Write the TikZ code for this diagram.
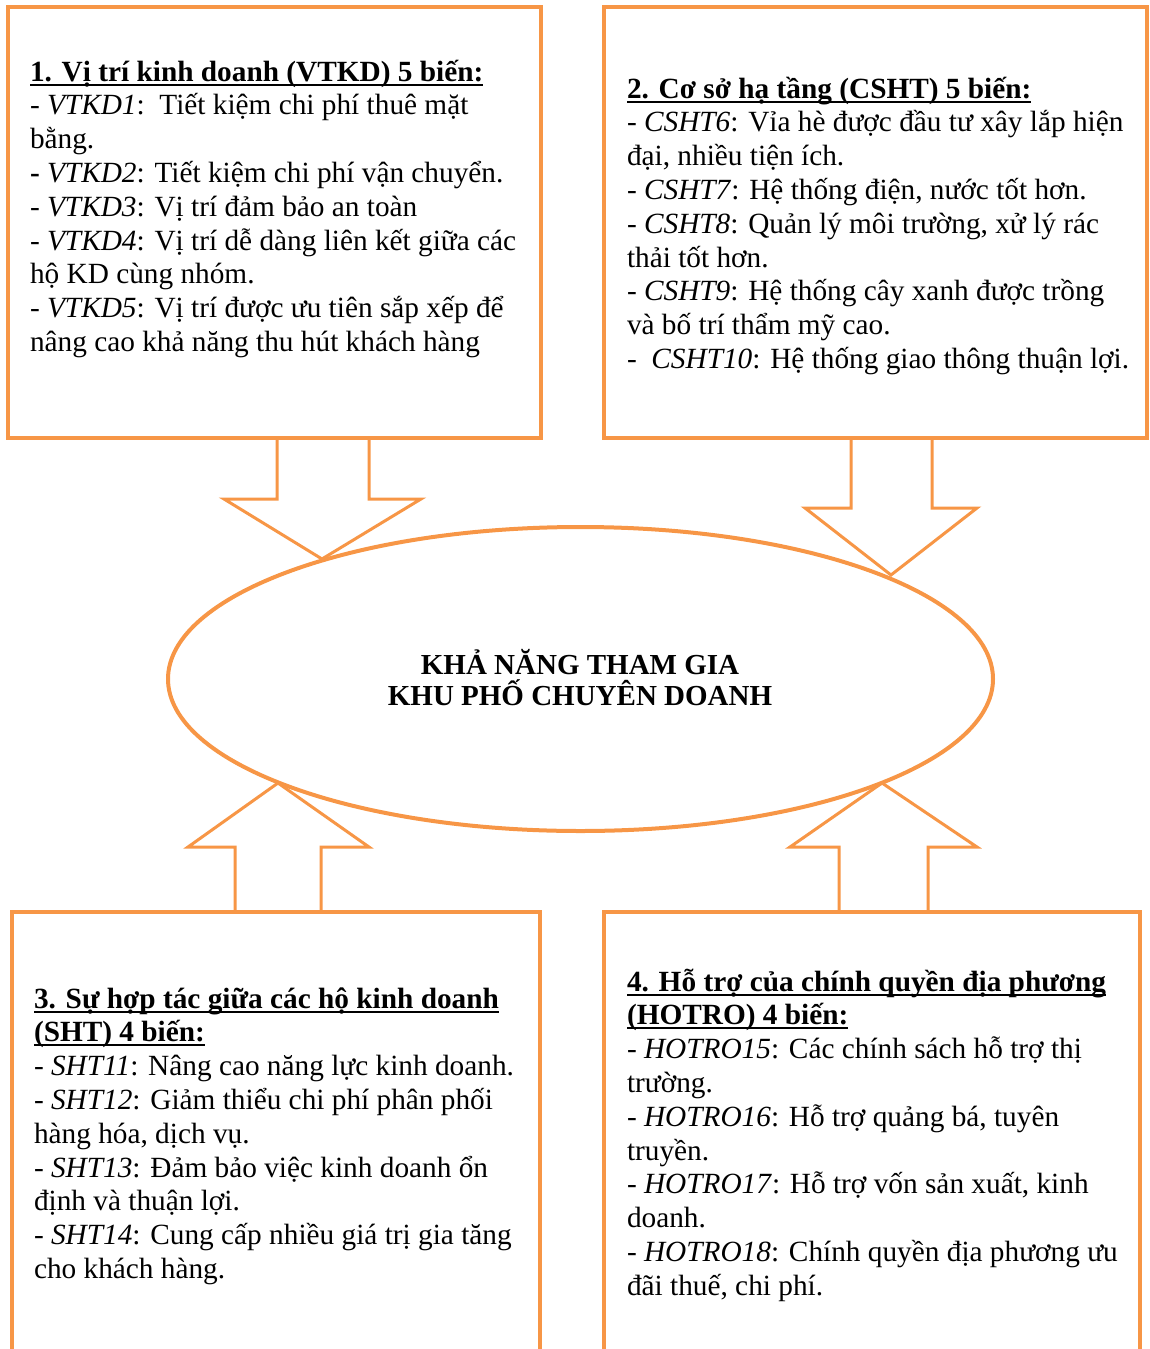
\documentclass[tikz,border=0pt]{standalone}
\usepackage{fontspec}
\setmainfont{Liberation Serif}
\usetikzlibrary{shapes.geometric}
\definecolor{org}{HTML}{F79646}
\newcommand\ulx[1]{\leavevmode\setbox0\hbox{#1}\rlap{\rule[-4.5pt]{\wd0}{2pt}}\box0}
\newcommand\boxlines[1]{\begin{minipage}[t]{560pt}\fontsize{29.3}{33.8}\selectfont\raggedright\leavevmode #1\end{minipage}}
\tikzset{
  frame/.style={draw=org, line width=4.8pt, rectangle, inner sep=0pt, outer sep=0pt, anchor=north west},
  barrow/.style={draw=org, line width=3pt, fill=white, line join=miter},
  txt/.style={anchor=base west, inner sep=0pt, outer sep=0pt},
  ctxt/.style={anchor=base, inner sep=0pt, font=\fontsize{29}{33.8}\selectfont\bfseries},
}
\begin{document}
\begin{tikzpicture}[x=1pt,y=-1pt]
\useasboundingbox (0,0) rectangle (1150,1349);
% block arrows
\draw[barrow] (277,438) -- (277,499) -- (224,499) -- (322,559) -- (421,499) -- (369,499) -- (369,438) -- cycle;
\draw[barrow] (851,438) -- (851,508) -- (805,508) -- (891,575) -- (977,508) -- (932,508) -- (932,438) -- cycle;
\draw[barrow] (235,912) -- (235,847) -- (188,847) -- (278,783) -- (369,847) -- (321,847) -- (321,912) -- cycle;
\draw[barrow] (839,912) -- (839,847) -- (790,847) -- (882,783) -- (977,847) -- (928,847) -- (928,912) -- cycle;
% central ellipse
\node[ellipse, draw=org, line width=4pt, minimum width=825pt, minimum height=304pt, inner sep=0pt, outer sep=0pt] (goal) at (580.5,679) {};
\node[ctxt] (goal1) at (580,674) {KHẢ NĂNG THAM GIA};
\node[ctxt] (goal2) at (580,705) {KHU PHỐ CHUYÊN DOANH};
% boxes
\node[frame, minimum width=533pt, minimum height=431pt] (b1) at (8,7) {};
\node[frame, minimum width=543pt, minimum height=431pt] (b2) at (604,7) {};
\node[frame, minimum width=528pt, minimum height=500pt] (b3) at (12,912) {};
\node[frame, minimum width=536pt, minimum height=500pt] (b4) at (604,912) {};
% texts
\node[txt] (t1) at (30,81) {\boxlines{%
\ulx{\textbf{1. Vị trí kinh doanh (VTKD) 5 biến:}}\\
- \textit{VTKD1}:\ \ Tiết kiệm chi phí thuê mặt\\
bằng.\\
\textbf{-} \textit{VTKD2}: Tiết kiệm chi phí vận chuyển.\\
- \textit{VTKD3}: Vị trí đảm bảo an toàn\\
- \textit{VTKD4}: Vị trí dễ dàng liên kết giữa các\\
hộ KD cùng nhóm.\\
- \textit{VTKD5}: Vị trí được ưu tiên sắp xếp để\\
nâng cao khả năng thu hút khách hàng}};
\node[txt] (t2) at (627,98) {\boxlines{%
\ulx{\textbf{2. Cơ sở hạ tầng (CSHT) 5 biến:}}\\
- \textit{CSHT6}: Vỉa hè được đầu tư xây lắp hiện\\
đại, nhiều tiện ích.\\
- \textit{CSHT7}: Hệ thống điện, nước tốt hơn.\\
- \textit{CSHT8}: Quản lý môi trường, xử lý rác\\
thải tốt hơn.\\
- \textit{CSHT9}: Hệ thống cây xanh được trồng\\
và bố trí thẩm mỹ cao.\\
-\ \ \textit{CSHT10}: Hệ thống giao thông thuận lợi.}};
\node[txt] (t3) at (34,1008) {\boxlines{%
\ulx{\textbf{3. Sự hợp tác giữa các hộ kinh doanh}}\\
\ulx{\textbf{(SHT) 4 biến:}}\\
- \textit{SHT11}: Nâng cao năng lực kinh doanh.\\
- \textit{SHT12}: Giảm thiểu chi phí phân phối\\
hàng hóa, dịch vụ.\\
- \textit{SHT13}: Đảm bảo việc kinh doanh ổn\\
định và thuận lợi.\\
- \textit{SHT14}: Cung cấp nhiều giá trị gia tăng\\
cho khách hàng.}};
\node[txt] (t4) at (627,991) {\boxlines{%
\ulx{\textbf{4. Hỗ trợ của chính quyền địa phương}}\\
\ulx{\textbf{(HOTRO) 4 biến:}}\\
- \textit{HOTRO15}: Các chính sách hỗ trợ thị\\
trường.\\
- \textit{HOTRO16}: Hỗ trợ quảng bá, tuyên\\
truyền.\\
- \textit{HOTRO17}: Hỗ trợ vốn sản xuất, kinh\\
doanh.\\
- \textit{HOTRO18}: Chính quyền địa phương ưu\\
đãi thuế, chi phí.}};
\end{tikzpicture}
\end{document}
